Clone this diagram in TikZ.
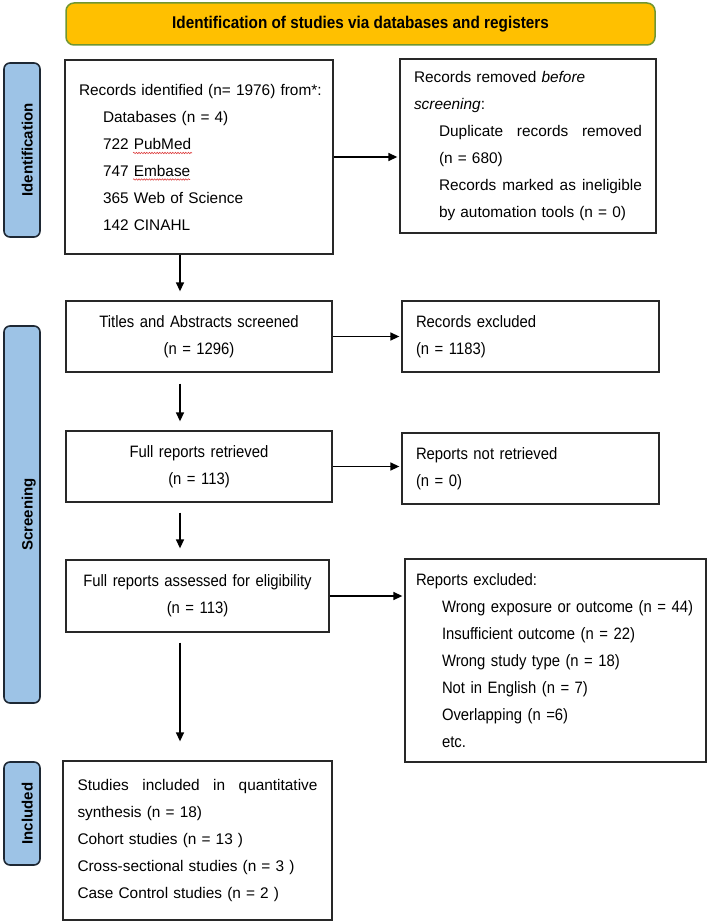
\documentclass[tikz,border=0pt]{standalone}
\usepackage{fontspec}
\setmainfont{Liberation Sans}
\newfontfamily\narrowf[FakeStretch=0.9]{Liberation Sans}
\usetikzlibrary{arrows.meta,decorations.pathmorphing}
\definecolor{gold}{RGB}{255,192,0}
\definecolor{bannerline}{RGB}{112,150,50}
\definecolor{pillfill}{RGB}{157,195,230}
\definecolor{pillline}{RGB}{30,40,52}
\definecolor{boxline}{RGB}{40,40,40}
\definecolor{spellred}{RGB}{220,60,60}
\setlength\parindent{0pt}
\newcommand\tline[1]{\mbox{#1}}
\begin{document}
\begin{tikzpicture}[x=1pt,y=-1pt,
  box/.style={draw=boxline, line width=1.3pt, rectangle, inner ysep=0pt, align=left},
  boxc/.style={draw=boxline, line width=1.3pt, rectangle, inner ysep=0pt, align=center},
  reg/.style={font=\fontsize{15.4}{27}\selectfont},
  nar/.style={font=\narrowf\fontsize{16.5}{27}\selectfont},
  pill/.style={draw=pillline, fill=pillfill, line width=1.6pt, rounded corners=6pt, minimum width=36pt},
  pilltext/.style={rotate=90, font=\bfseries\fontsize{15}{18}\selectfont, text height=11pt, text depth=0pt, inner sep=0pt},
  arr/.style={-{Triangle[length=9pt,width=8pt]}, line width=1.4pt},
  wave/.style={draw=spellred, line width=0.6pt, decorate, decoration={snake, amplitude=0.7pt, segment length=2.6pt}},
]
\useasboundingbox (0,0) rectangle (709,923);

% banner
\node[draw=bannerline, fill=gold, line width=1.5pt, rounded corners=8pt,
      minimum width=589pt, minimum height=42pt,
      font=\narrowf\bfseries\fontsize{17}{20}\selectfont] (banner) at (360.5,24)
      {Identification of studies via databases and registers};

% side labels
\node[pill, minimum height=174pt] (pid) at (22,150) {};
\node[pilltext] (tid) at (27,150) {Identification};
\node[pill, minimum height=377pt] (psc) at (22,514.5) {};
\node[pilltext] (tsc) at (27,514.5) {Screening};
\node[pill, minimum height=103pt] (pin) at (22,813.5) {};
\node[pilltext] (tin) at (27,813.5) {Included};

% identification
\node[box, reg, minimum width=268pt, minimum height=194pt, text width=240pt, inner xsep=14pt] (rec) at (199,157)
  {\tline{Records identified (n= 1976) from*:}\\
   \tline{\hspace*{24pt}Databases (n = 4)}\\
   \tline{\hspace*{24pt}722 PubMed}\\
   \tline{\hspace*{24pt}747 Embase}\\
   \tline{\hspace*{24pt}365 Web of Science}\\
   \tline{\hspace*{24pt}142 CINAHL}};
\node[box, reg, minimum width=256pt, minimum height=174pt, text width=228pt, inner xsep=14pt] (rem) at (528,146)
  {\tline{Records removed \textit{before}}\\
   \tline{\textit{screening}:}\\
   \hspace*{25pt}Duplicate\hfill records\hfill removed\\
   \tline{\hspace*{25pt}(n = 680)}\\
   \hspace*{25pt}Records\hfill marked\hfill as\hfill ineligible\\
   \tline{\hspace*{25pt}by automation tools (n = 0)}};

% spell-check marks under PubMed and Embase
\draw[wave] (133,153) -- (192,153);
\draw[wave] (133,179.5) -- (190,179.5);

% screening
\node[boxc, nar, minimum width=266pt, minimum height=71pt, text width=238pt, inner xsep=14pt] (tas) at (199,336.5)
  {\tline{Titles and Abstracts screened}\\\tline{(n = 1296)}};
\node[box, nar, minimum width=257pt, minimum height=71pt, text width=229pt, inner xsep=14pt] (rex) at (530.5,336.5)
  {\tline{Records excluded}\\\tline{(n = 1183)}};
\node[boxc, nar, minimum width=266pt, minimum height=71pt, text width=238pt, inner xsep=14pt] (frr) at (199,466.5)
  {\tline{Full reports retrieved}\\\tline{(n = 113)}};
\node[box, nar, minimum width=257pt, minimum height=71pt, text width=229pt, inner xsep=14pt] (rnr) at (530.5,468.5)
  {\tline{Reports not retrieved}\\\tline{(n = 0)}};
\node[boxc, nar, minimum width=263pt, minimum height=72pt, text width=235pt, inner xsep=14pt] (fra) at (197.5,596)
  {\tline{Full reports assessed for eligibility}\\\tline{(n = 113)}};
\node[box, nar, minimum width=301pt, minimum height=203pt, text width=279pt, inner xsep=11pt] (rep) at (555.5,660.5)
  {\tline{Reports excluded:}\\
   \tline{\hspace*{26pt}Wrong exposure or outcome (n = 44)}\\
   \tline{\hspace*{26pt}Insufficient outcome (n = 22)}\\
   \tline{\hspace*{26pt}Wrong study type (n = 18)}\\
   \tline{\hspace*{26pt}Not in English (n = 7)}\\
   \tline{\hspace*{26pt}Overlapping (n =6)}\\
   \tline{\hspace*{26pt}etc.}};

% included
\node[box, reg, minimum width=269pt, minimum height=159pt, text width=240pt, inner xsep=14.5pt] (inc) at (197.5,840.5)
  {Studies\hfill included\hfill in\hfill quantitative\\
   \tline{synthesis (n = 18)}\\
   \tline{Cohort studies (n = 13 )}\\
   \tline{Cross-sectional studies (n = 3 )}\\
   \tline{Case Control studies (n = 2 )}};

% connectors
\coordinate (ax) at (180,0);
\draw[arr, shorten >=2pt] (rec.east) -- (rec.east -| rem.west);
\draw[arr, shorten >=2pt] (tas.east) -- (tas.east -| rex.west);
\draw[arr, shorten >=2pt] (frr.east) -- (frr.east -| rnr.west);
\draw[arr, shorten >=2pt] (fra.east) -- (fra.east -| rep.west);
\draw[arr, shorten >=9pt] (rec.south -| ax) -- (tas.north -| ax);
\draw[arr, shorten <=11pt, shorten >=9pt] (tas.south -| ax) -- (frr.north -| ax);
\draw[arr, shorten <=10pt, shorten >=11pt] (frr.south -| ax) -- (fra.north -| ax);
\draw[arr, shorten <=10pt, shorten >=19pt] (fra.south -| ax) -- (inc.north -| ax);
\end{tikzpicture}
\end{document}
